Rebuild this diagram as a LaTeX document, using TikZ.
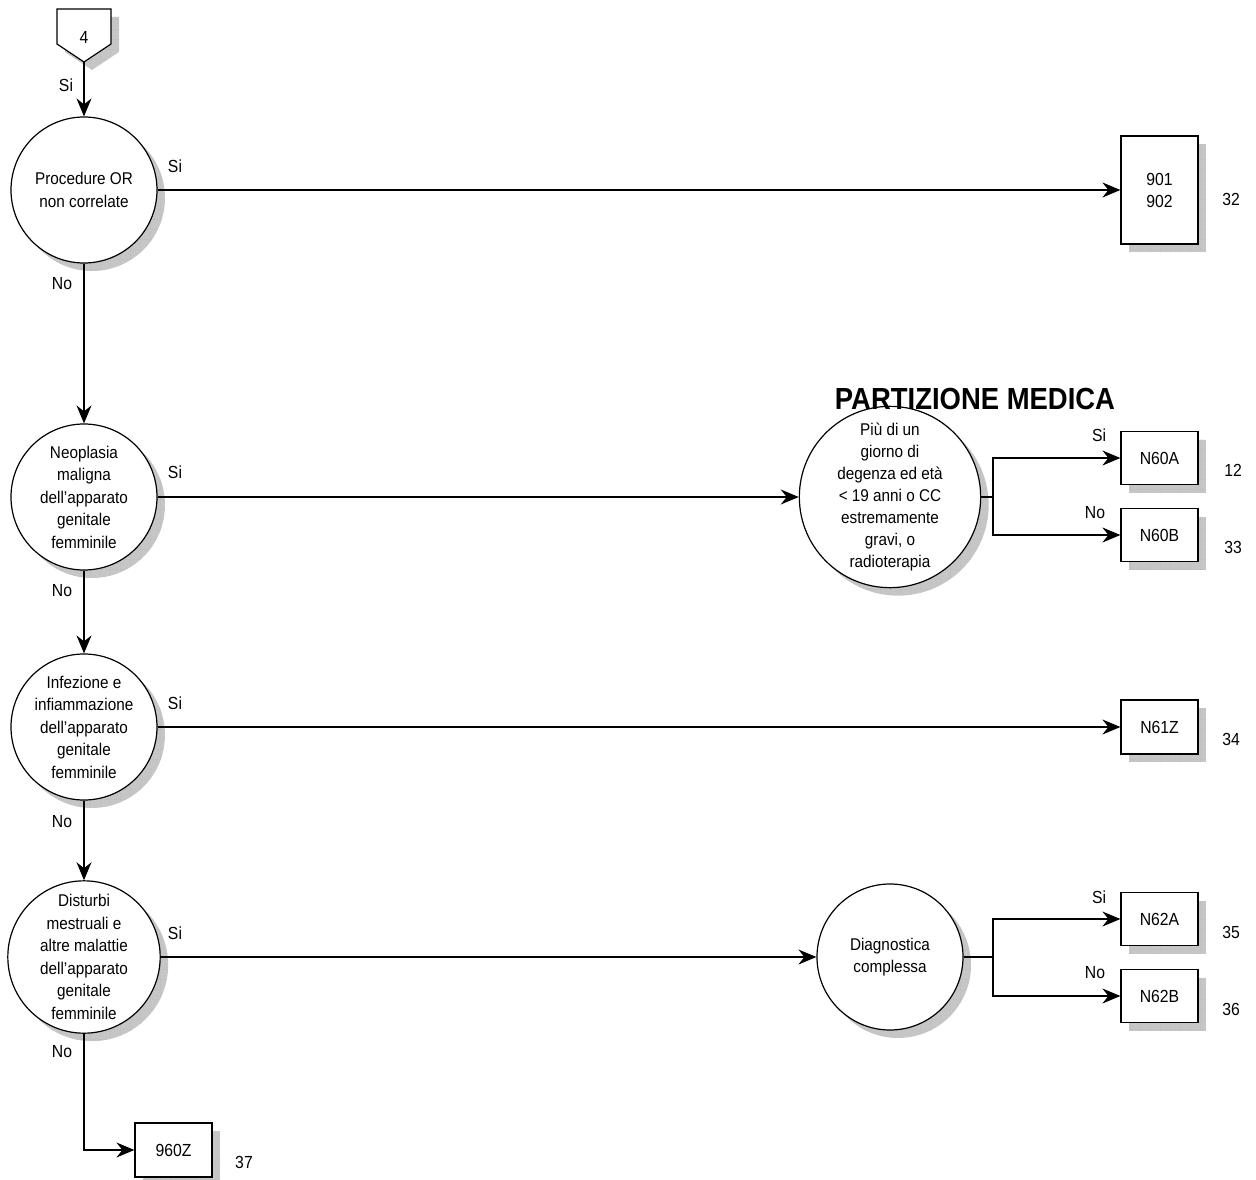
\documentclass[tikz,border=0pt]{standalone}
\usepackage{fontspec}
\setmainfont{Liberation Sans}[FakeStretch=0.9]
\usetikzlibrary{arrows.meta,shadows,patterns}
\pgfdeclarepatternformonly{biggrid}{\pgfpointorigin}{\pgfpoint{10pt}{10pt}}{\pgfpoint{10pt}{10pt}}{%
  \pgfsetlinewidth{0.5pt}%
  \pgfpathmoveto{\pgfpointorigin}\pgfpathlineto{\pgfpoint{10pt}{0pt}}%
  \pgfpathmoveto{\pgfpointorigin}\pgfpathlineto{\pgfpoint{0pt}{10pt}}%
  \pgfusepath{stroke}}
\tikzset{
  shd/.style={drop shadow={shadow xshift=8pt, shadow yshift=-8pt, opacity=1, fill=gray!45, postaction={pattern=biggrid, pattern color=gray!70}}},
  decision/.style={circle, draw, line width=1.2pt, fill=white, minimum size=146pt, inner sep=0pt, align=center, font=\fontsize{17}{22.5}\selectfont, shd},
  drgbox/.style={rectangle, draw, line width=1.2pt, fill=white, minimum width=77pt, inner sep=0pt, align=center, font=\fontsize{17.5}{22}\selectfont, shd},
  lbl/.style={inner sep=0pt, font=\fontsize{17.5}{20}\selectfont},
  arr/.style={line width=1.2pt, -{Stealth[length=18pt, width=15pt, inset=6pt]}},
  ln/.style={line width=1.2pt}
}
\begin{document}
\begin{tikzpicture}[x=1pt, y=-1pt]
\useasboundingbox (0,0) rectangle (1256,1180);
% off-page connector
\fill[gray!45, shift={(8,8)}] (57,9) -- (111,9) -- (111,44) -- (84,62) -- (57,44) -- cycle;
\pattern[pattern=biggrid, pattern color=gray!70, shift={(8,8)}] (57,9) -- (111,9) -- (111,44) -- (84,62) -- (57,44) -- cycle;
\filldraw[fill=white, line width=1.2pt] (57,9) -- (111,9) -- (111,44) -- (84,62) -- (57,44) -- cycle;
\node[lbl] (p4) at (84,37) {4};
\coordinate (p4tip) at (84,62);

% decisions
\node[decision] (c1) at (84,190) {Procedure OR\\non correlate};
\node[decision] (c2) at (84,497) {Neoplasia\\maligna\\dell'apparato\\genitale\\femminile};
\node[decision] (c3) at (84,727) {Infezione e\\infiammazione\\dell'apparato\\genitale\\femminile};
\node[decision] (c4) at (84,957) {Disturbi\\mestruali e\\altre malattie\\dell'apparato\\genitale\\femminile};
\node[decision, font=\fontsize{17}{22}\selectfont] (c5) at (890,497) {Più di un\\giorno di\\degenza ed età\\< 19 anni o CC\\estremamente\\gravi, o\\radioterapia};
\node[decision] (c6) at (890,957) {Diagnostica\\complessa};

% DRG boxes
\node[drgbox, minimum height=108pt] (b901) at (1159.5,190) {901\\902};
\node[drgbox, minimum height=53pt] (n60a) at (1159.5,458) {N60A};
\node[drgbox, minimum height=53pt] (n60b) at (1159.5,535) {N60B};
\node[drgbox, minimum height=54pt] (n61z) at (1159.5,727) {N61Z};
\node[drgbox, minimum height=53pt] (n62a) at (1159.5,919) {N62A};
\node[drgbox, minimum height=53pt] (n62b) at (1159.5,996) {N62B};
\node[drgbox, minimum height=54pt] (z960) at (173.5,1150) {960Z};

% title
\node[inner sep=0pt, font=\fontsize{30.5}{32}\selectfont\bfseries] (title) at (975,399) {PARTIZIONE MEDICA};

% connectors
\draw[arr] (p4tip) -- (c1.north);
\draw[arr] (c1.east) -- (b901.west);
\draw[arr] (c1.south) -- (c2.north);
\draw[arr] (c2.east) -- (c5.west);
\draw[arr] (c2.south) -- (c3.north);
\draw[arr] (c3.east) -- (n61z.west);
\draw[arr] (c3.south) -- (c4.north);
\draw[arr] (c4.east) -- (c6.west);
\draw[arr] (c4.south) |- (z960.west);
\coordinate (j1) at (993,497);
\coordinate (j2) at (993,957);
\draw[ln] (c5.east) -- (j1);
\draw[arr] (j1) |- (n60a.west);
\draw[arr] (j1) |- (n60b.west);
\draw[ln] (c6.east) -- (j2);
\draw[arr] (j2) |- (n62a.west);
\draw[arr] (j2) |- (n62b.west);

% branch labels
\node[lbl] (l0) at (66,85) {Si};
\node[lbl] (l1s) at (175,166) {Si};
\node[lbl] (l1n) at (62,284) {No};
\node[lbl] (l2s) at (175,472) {Si};
\node[lbl] (l2n) at (62,591) {No};
\node[lbl] (l3s) at (175,703) {Si};
\node[lbl] (l3n) at (62,822) {No};
\node[lbl] (l4s) at (175,933) {Si};
\node[lbl] (l4n) at (62,1052) {No};
\node[lbl] (l5s) at (1099,435) {Si};
\node[lbl] (l5n) at (1095,513) {No};
\node[lbl] (l6s) at (1099,897) {Si};
\node[lbl] (l6n) at (1095,973) {No};

% numbers
\node[lbl] (k32) at (1231,199) {32};
\node[lbl] (k12) at (1233,470) {12};
\node[lbl] (k33) at (1233,547) {33};
\node[lbl] (k34) at (1231,739) {34};
\node[lbl] (k35) at (1231,932) {35};
\node[lbl] (k36) at (1231,1009) {36};
\node[lbl] (k37) at (244,1162) {37};
\end{tikzpicture}
\end{document}
